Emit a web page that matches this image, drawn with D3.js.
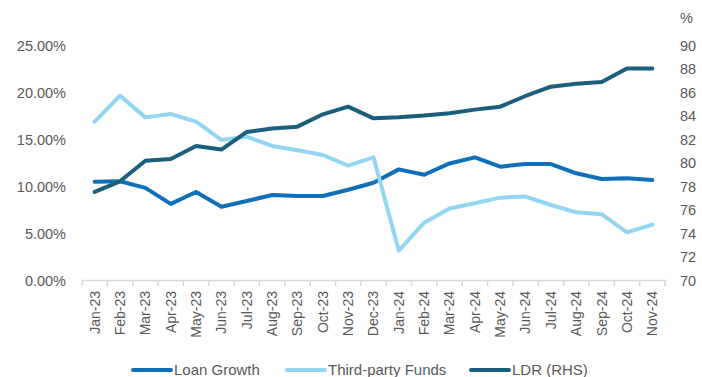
<!DOCTYPE html>
<html>
<head>
<meta charset="utf-8">
<script src="https://cdn.jsdelivr.net/npm/d3@7"></script>
<style>
  body { margin: 0; background: #fff; }
  text { font-family: "Liberation Sans", Arial, sans-serif; fill: #595959; }
</style>
</head>
<body>
<script>
// data
let months = ["Jan-23","Feb-23","Mar-23","Apr-23","May-23","Jun-23","Jul-23","Aug-23","Sep-23","Oct-23","Nov-23","Dec-23",
              "Jan-24","Feb-24","Mar-24","Apr-24","May-24","Jun-24","Jul-24","Aug-24","Sep-24","Oct-24","Nov-24"];
let loanGrowth = [10.46,10.5,9.8,8.1,9.36,7.8,8.4,9.04,8.94,8.94,9.6,10.35,11.77,11.2,12.4,13.05,12.06,12.34,12.34,11.35,10.74,10.82,10.64];
let thirdParty = [16.84,19.6,17.3,17.66,16.84,14.9,15.25,14.26,13.8,13.3,12.16,13.05,3.12,6.1,7.6,8.16,8.76,8.87,7.98,7.2,7.0,5.07,5.9];
let ldr = [77.5,78.4,80.15,80.3,81.4,81.1,82.6,82.9,83.05,84.1,84.75,83.76,83.85,84.0,84.2,84.5,84.75,85.66,86.45,86.7,86.85,88.0,88.0];
let leftTicks = [0,5,10,15,20,25];
let rightTicks = [70,72,74,76,78,80,82,84,86,88,90];

let width = 702, height = 377;
let margin = {top: 45, right: 37, bottom: 97, left: 82};

let svg = d3.select("body").append("svg")
  .attr("width", width)
  .attr("height", height);

let x = d3.scaleBand().domain(months).range([margin.left, width - margin.right]);
let yL = d3.scaleLinear().domain([0, 25]).range([height - margin.bottom, margin.top]);
let yR = d3.scaleLinear().domain([70, 90]).range([height - margin.bottom, margin.top]);

// left axis labels
let yLeft = svg.append("g")
  .attr("transform", "translate(66,0)")
  .call(d3.axisLeft(yL).tickValues(leftTicks).tickFormat(d => d.toFixed(2) + "%").tickSize(0));
yLeft.select(".domain").remove();
yLeft.selectAll("text").attr("font-size", "14.5px").attr("dy", "0.35em").attr("x", 0);

// right axis labels
let yRight = svg.append("g")
  .attr("transform", "translate(680,0)")
  .call(d3.axisRight(yR).tickValues(rightTicks).tickSize(0));
yRight.select(".domain").remove();
yRight.selectAll("text").attr("font-size", "14.5px").attr("dy", "0.35em").attr("x", 0);

svg.append("text")
  .attr("x", 680).attr("y", 23)
  .attr("font-size", "14.5px")
  .text("%");

// x axis
let xAxis = svg.append("g")
  .attr("transform", "translate(0," + (height - margin.bottom) + ")")
  .call(d3.axisBottom(x).tickSize(0));
xAxis.select(".domain").attr("stroke", "#d9d9d9").attr("stroke-width", 1.5);
xAxis.selectAll("text")
  .attr("font-size", "14px")
  .attr("transform", "rotate(-90)")
  .attr("text-anchor", "end")
  .attr("x", -11)
  .attr("y", 0)
  .attr("dy", "0.35em");

// tick marks between categories
let edges = months.map(m => x(m)).concat([x.range()[1]]);
svg.append("g").selectAll("line")
  .data(edges)
  .enter().append("line")
  .attr("x1", d => d).attr("x2", d => d)
  .attr("y1", height - margin.bottom)
  .attr("y2", height - margin.bottom + 6)
  .attr("stroke", "#d9d9d9")
  .attr("stroke-width", 1.5);

let cx = d => x(d) + x.bandwidth() / 2;

let series = [
  {name: "Loan Growth", values: loanGrowth, scale: yL, color: "#0f6fb8"},
  {name: "Third-party Funds", values: thirdParty, scale: yL, color: "#93d6f4"},
  {name: "LDR (RHS)", values: ldr, scale: yR, color: "#1b5e7e"}
];

// draw in order so LDR sits on top
series.forEach(s => {
  let line = d3.line()
    .x((d, i) => cx(months[i]))
    .y(d => s.scale(d));
  svg.append("path")
    .datum(s.values)
    .attr("fill", "none")
    .attr("stroke", s.color)
    .attr("stroke-width", 4)
    .attr("stroke-linejoin", "round")
    .attr("stroke-linecap", "round")
    .attr("d", line);
});

// legend
let legendX = [133, 287, 471];
let legend = svg.append("g");
series.forEach((s, i) => {
  legend.append("line")
    .attr("x1", legendX[i]).attr("x2", legendX[i] + 38)
    .attr("y1", 370).attr("y2", 370)
    .attr("stroke", s.color)
    .attr("stroke-width", 4)
    .attr("stroke-linecap", "round");
  legend.append("text")
    .attr("x", legendX[i] + 41)
    .attr("y", 370)
    .attr("dy", "0.35em")
    .attr("font-size", "15px")
    .text(s.name);
});
</script>
</body>
</html>
